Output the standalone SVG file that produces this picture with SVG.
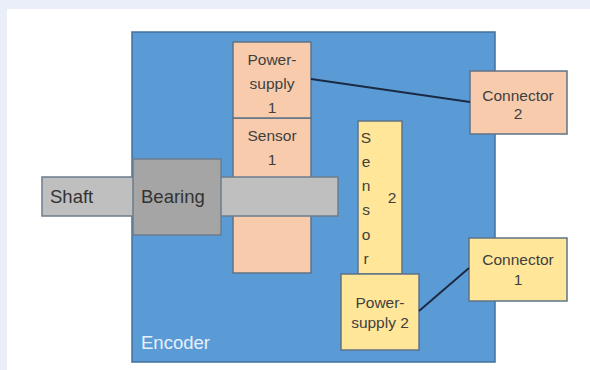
<svg xmlns="http://www.w3.org/2000/svg" width="590" height="370" viewBox="0 0 590 370">
<style>
.box{stroke:#5f7387;stroke-width:1.5}
.peach{fill:#f8cbad}
.yellow{fill:#ffe699}
.t{font-family:"Liberation Sans",Arial,sans-serif;font-size:15.5px;fill:#3f3f3f;text-anchor:middle}
.big{font-family:"Liberation Sans",Arial,sans-serif;font-size:18.5px;fill:#333333}
.conn{stroke:#1b2a44;stroke-width:2;fill:none}
</style>
<rect x="0" y="0" width="590" height="370" fill="#e9eef8"/>
<rect x="7" y="9" width="583" height="361" fill="#ffffff"/>
<g id="encoder">
<rect x="132" y="32" width="363" height="330" fill="#5b9bd5" stroke="#41719c" stroke-width="1.5"/>
<text x="141" y="349" class="big" style="fill:#e6f0fb">Encoder</text>
</g>
<g id="sensor1">
<rect x="233" y="118" width="78" height="155" class="box peach"/>
<text x="272" y="141" class="t">Sensor</text>
<text x="272" y="165" class="t">1</text>
</g>
<g id="powersupply1">
<rect x="233" y="42" width="78" height="76" class="box peach"/>
<text x="272" y="65" class="t">Power-</text>
<text x="272" y="89" class="t">supply</text>
<text x="272" y="113" class="t">1</text>
</g>
<g id="shaft">
<rect x="42" y="177" width="296" height="39" fill="#bfbfbf" stroke="#6b7d8f" stroke-width="1.5"/>
<text x="50" y="203" class="big">Shaft</text>
</g>
<g id="bearing">
<rect x="133" y="159" width="88" height="76" fill="#a5a5a5" stroke="#6b7d8f" stroke-width="1.5"/>
<text x="141" y="203" class="big">Bearing</text>
</g>
<g id="sensor2">
<rect x="358" y="121" width="44" height="153" class="box yellow"/>
<text x="366" y="143" class="t">S</text>
<text x="366" y="167" class="t">e</text>
<text x="366" y="191" class="t">n</text>
<text x="366" y="215" class="t">s</text>
<text x="366" y="240" class="t">o</text>
<text x="366" y="264" class="t">r</text>
<text x="392" y="203" class="t">2</text>
</g>
<g id="powersupply2">
<rect x="341" y="274" width="78" height="76" class="box yellow"/>
<text x="380" y="308" class="t">Power-</text>
<text x="380" y="328" class="t">supply 2</text>
</g>
<g id="connector2">
<rect x="470" y="71" width="97" height="63" class="box peach"/>
<text x="518" y="101" class="t">Connector</text>
<text x="518" y="119" class="t">2</text>
</g>
<g id="connector1">
<rect x="469" y="238" width="98" height="63" class="box yellow"/>
<text x="518" y="265" class="t">Connector</text>
<text x="518" y="285" class="t">1</text>
</g>
<g id="connectors">
<line x1="311" y1="79" x2="470" y2="102" class="conn"/>
<line x1="419" y1="311" x2="469" y2="268" class="conn"/>
</g>
</svg>
